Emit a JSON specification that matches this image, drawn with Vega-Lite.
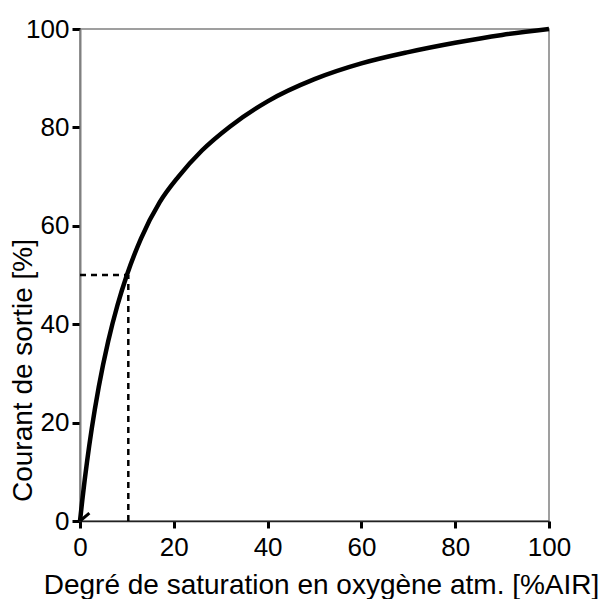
{
  "$schema": "https://vega.github.io/schema/vega-lite/v6.json",
  "width": 469,
  "height": 492,
  "autosize": "none",
  "padding": {"left": 80, "top": 29, "right": 59, "bottom": 78},
  "background": "white",
  "config": {
    "view": {"stroke": "#808080", "strokeWidth": 1.5},
    "font": "Liberation Sans"
  },
  "datasets": {
    "curve": [
      {"x": 0, "y": 0},
      {"x": 0.5, "y": 4.33},
      {"x": 1, "y": 8.33},
      {"x": 1.5, "y": 12.05},
      {"x": 2.5, "y": 18.75},
      {"x": 4, "y": 27.27},
      {"x": 6, "y": 36.49},
      {"x": 8, "y": 43.9},
      {"x": 10, "y": 50},
      {"x": 13, "y": 57.4},
      {"x": 17, "y": 64.8},
      {"x": 21, "y": 70.0},
      {"x": 26, "y": 75.3},
      {"x": 32, "y": 80.2},
      {"x": 40, "y": 85.3},
      {"x": 50, "y": 89.8},
      {"x": 60, "y": 93.0},
      {"x": 70, "y": 95.3},
      {"x": 80, "y": 97.2},
      {"x": 90, "y": 98.8},
      {"x": 100, "y": 100}
    ],
    "guides": [
      {"x": 0, "y": 50, "seg": "h"},
      {"x": 10.3, "y": 50, "seg": "h"},
      {"x": 10.3, "y": 0, "seg": "v"},
      {"x": 10.3, "y": 50, "seg": "v"}
    ],
    "tick": [
      {"x": 0, "y": 0},
      {"x": 2, "y": 1.6}
    ]
  },
  "layer": [
    {
      "data": {"name": "guides"},
      "mark": {"type": "line", "color": "black", "strokeWidth": 2.5, "strokeDash": [6, 5]},
      "encoding": {
        "x": {
          "field": "x", "type": "quantitative",
          "scale": {"domain": [0, 100], "nice": false, "zero": false},
          "axis": {
            "values": [0, 20, 40, 60, 80, 100],
            "grid": false,
            "labelFlush": false,
            "domainColor": "#222",
            "domainWidth": 1.5,
            "tickColor": "black",
            "tickWidth": 3,
            "tickSize": 7,
            "labelFontSize": 26,
            "labelColor": "black",
            "labelPadding": 6,
            "labelFont": "Liberation Sans",
            "title": "Degré de saturation en oxygène atm. [%AIR]",
            "titleFontSize": 28,
            "titleFontWeight": "normal",
            "titleColor": "black",
            "titleFont": "Liberation Sans",
            "titleX": 241,
            "titleY": 72,
            "titleAlign": "center",
            "titleBaseline": "alphabetic"
          }
        },
        "y": {
          "field": "y", "type": "quantitative",
          "scale": {"domain": [0, 100], "nice": false, "zero": false},
          "axis": {
            "values": [0, 20, 40, 60, 80, 100],
            "grid": false,
            "labelFlush": false,
            "domainColor": "#808080",
            "domainWidth": 2,
            "tickColor": "black",
            "tickWidth": 3,
            "tickSize": 8,
            "labelFontSize": 26,
            "labelColor": "black",
            "labelPadding": 3,
            "labelFont": "Liberation Sans",
            "title": "Courant de sortie [%]",
            "titleFontSize": 28,
            "titleFontWeight": "normal",
            "titleColor": "black",
            "titleFont": "Liberation Sans",
            "titleAngle": -90,
            "titleX": -49,
            "titleY": 341,
            "titleAlign": "center",
            "titleBaseline": "alphabetic"
          }
        },
        "detail": {"field": "seg", "type": "nominal"}
      }
    },
    {
      "mark": {"type": "rule", "color": "#222", "strokeWidth": 1.5},
      "encoding": {
        "x": {"datum": 0, "type": "quantitative"},
        "x2": {"datum": 100},
        "y": {"datum": 100, "type": "quantitative"}
      }
    },
    {
      "data": {"name": "curve"},
      "mark": {"type": "line", "color": "black", "strokeWidth": 4.5, "interpolate": "monotone"},
      "encoding": {
        "x": {"field": "x", "type": "quantitative"},
        "y": {"field": "y", "type": "quantitative"}
      }
    },
    {
      "data": {"name": "tick"},
      "mark": {"type": "line", "color": "black", "strokeWidth": 3},
      "encoding": {
        "x": {"field": "x", "type": "quantitative"},
        "y": {"field": "y", "type": "quantitative"}
      }
    }
  ]
}
